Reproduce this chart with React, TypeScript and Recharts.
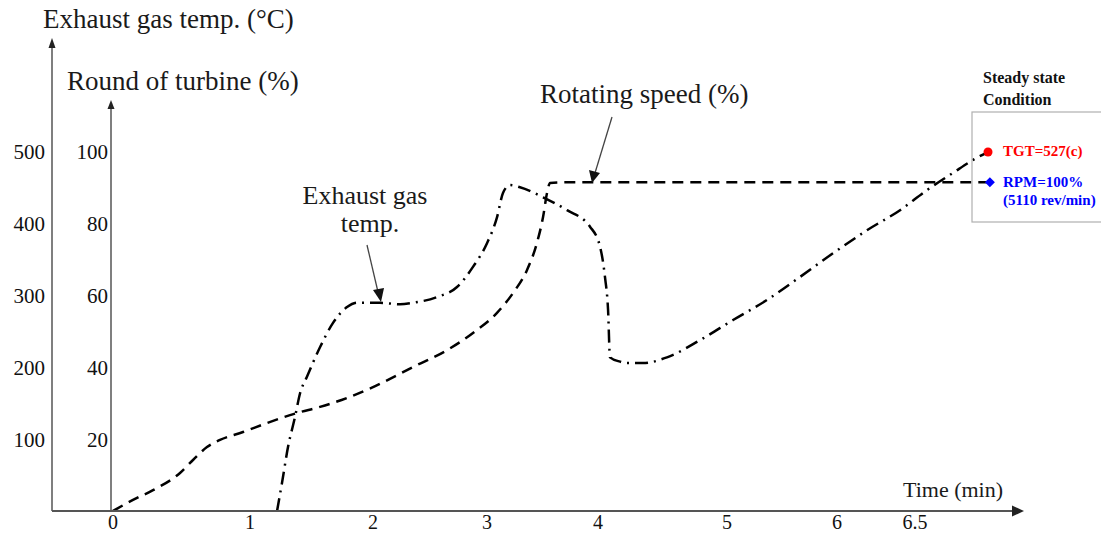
import { Line, LineChart, XAxis, YAxis } from "recharts";

const timeTicks = [0, 1, 2, 3, 4, 5, 6, 6.5];
const tempTicks = [100, 200, 300, 400, 500];
const speedTicks = [20, 40, 60, 80, 100];

// rotating speed (%) vs time (min)
const speedTime = [
  0, 0.146, 0.292, 0.489, 0.584, 0.686, 0.781, 0.949, 1.138, 1.382, 1.569, 1.789, 2.0, 2.149,
  2.351, 2.649, 2.877, 3.09, 3.234, 3.36, 3.45, 3.505, 3.541, 3.568, 3.721, 6.98,
];
const speedPct = [
  0, 3.1, 5.8, 10.6, 14.2, 17.8, 19.8, 22.0, 24.5, 27.3, 29.0, 31.5, 34.5, 36.8, 40.1, 44.8,
  49.6, 55.2, 60.7, 67.1, 74.7, 81.9, 88.6, 91.4, 91.6, 91.6,
];

// exhaust gas temp (°C) vs time (min)
const tempTime = [
  1.22, 1.26, 1.309, 1.366, 1.407, 1.463, 1.569, 1.675, 1.789, 1.87, 2.061, 2.237, 2.351, 2.561,
  2.737, 2.877, 3.0, 3.09, 3.144, 3.207, 3.297, 3.505, 3.721, 3.928, 4.016, 4.054, 4.078, 4.093,
  4.171, 4.225, 4.349, 4.535, 4.791, 5.055, 5.364, 5.664, 5.964, 6.192, 6.404, 6.577, 6.744,
  6.872, 6.968,
];
const tempC = [
  0, 39, 89, 131, 164, 187, 228, 262, 284, 290, 290, 288, 290, 298, 312, 340, 373, 409, 443, 454,
  451, 437, 419, 396, 368, 326, 280, 214, 208, 206, 206, 214, 238, 266, 294, 326, 359, 391, 419,
  447, 471, 489, 500,
];

const speedData = speedTime.map((t, i) => ({ t, v: speedPct[i] }));
const tempData = tempTime.map((t, i) => ({ t, v: tempC[i] }));

// the drawing's time axis is not evenly spaced: where each labelled minute sits, px from plot left
const knotOffsets = [2, 139, 262, 376, 487, 616, 726, 804];
const plotW = 899;

function timeFrac(t: number) {
  const n = timeTicks.length;
  let i = 0;
  if (t >= timeTicks[n - 1]) i = n - 2;
  else if (t > timeTicks[0]) while (t > timeTicks[i + 1]) i++;
  const t0 = timeTicks[i];
  const t1 = timeTicks[i + 1];
  const o = knotOffsets[i] + ((t - t0) / (t1 - t0)) * (knotOffsets[i + 1] - knotOffsets[i]);
  return o / plotW;
}

function timeScale(dom: any[] = [0, 1], rng: number[] = [0, 1]) {
  let d = dom.slice();
  let r = rng.slice();
  const s: any = (v: number) => r[0] + timeFrac(Number(v)) * (r[1] - r[0]);
  s.domain = (x?: any[]) => {
    if (x === undefined) return d.slice();
    d = x.slice();
    return s;
  };
  s.range = (x?: number[]) => {
    if (x === undefined) return r.slice();
    r = x.slice();
    return s;
  };
  s.copy = () => timeScale(d, r);
  s.ticks = () => timeTicks.slice();
  s.tickFormat = () => (v: number) => String(v);
  return s;
}

const serif = "'Liberation Serif', 'Times New Roman', serif";
const axisColor = "#555";
const lastSpeed = speedData.length - 1;
const lastTemp = tempData.length - 1;

function SpeedEnd(props: any) {
  const { cx, cy, index } = props;
  if (index !== lastSpeed) return <g key={`s${index}`} />;
  return (
    <polygon
      key={`s${index}`}
      points={`${cx},${cy - 5} ${cx + 5},${cy} ${cx},${cy + 5} ${cx - 5},${cy}`}
      fill="#0000ff"
    />
  );
}

function TempEnd(props: any) {
  const { cx, cy, index } = props;
  if (index !== lastTemp) return <g key={`t${index}`} />;
  return <circle key={`t${index}`} cx={cx} cy={cy} r={4.5} fill="#ff0000" />;
}

export default function App() {
  return (
    <div style={{ position: "relative", width: 1093, height: 528 }}>
      <LineChart width={1093} height={528} margin={{ top: 97, right: 91, bottom: 0, left: 0 }}>
        <XAxis
          dataKey="t"
          type="number"
          scale={timeScale() as any}
          domain={[-0.015, 7.11]}
          ticks={timeTicks}
          interval={0}
          tickLine={false}
          tickSize={0}
          tickMargin={4}
          height={25}
          axisLine={{ stroke: axisColor, strokeWidth: 2 }}
          tick={{ fill: "#111", fontSize: 20, fontFamily: serif }}
          allowDuplicatedCategory={false}
        />
        <YAxis
          yAxisId="pct"
          type="number"
          domain={[0, 113.1]}
          ticks={speedTicks}
          width={59}
          tickLine={false}
          tickSize={0}
          tickMargin={3}
          axisLine={{ stroke: axisColor, strokeWidth: 1.5 }}
          tick={{ fill: "#111", fontSize: 21, fontFamily: serif }}
        />
        <YAxis
          yAxisId="temp"
          type="number"
          domain={[0, 565.5]}
          ticks={tempTicks}
          width={44}
          tickLine={false}
          tickSize={0}
          tickMargin={7}
          axisLine={{ stroke: axisColor, strokeWidth: 1.5 }}
          tick={{ fill: "#111", fontSize: 21, fontFamily: serif }}
        />
        <Line
          yAxisId="pct"
          data={speedData}
          dataKey="v"
          type="monotone"
          stroke="#000"
          strokeWidth={2.5}
          strokeDasharray="11 7"
          dot={SpeedEnd}
          activeDot={false}
          isAnimationActive={false}
        />
        <Line
          yAxisId="temp"
          data={tempData}
          dataKey="v"
          type="monotone"
          stroke="#000"
          strokeWidth={2.5}
          strokeDasharray="13 6 2 6"
          dot={TempEnd}
          activeDot={false}
          isAnimationActive={false}
        />
      </LineChart>

      <svg
        width={1109}
        height={544}
        style={{ position: "absolute", left: -8, top: -8, pointerEvents: "none" }}
        fontFamily={serif}
      >
        {/* axis extensions and arrow heads */}
        <line x1={52} y1={105} x2={52} y2={46} stroke={axisColor} strokeWidth={1.5} />
        <polygon points="52,38 48.5,48 55.5,48" fill="#222" />
        <polygon points="111,100 107.5,109 114.5,109" fill="#222" />
        <line x1={52} y1={511} x2={111} y2={511} stroke={axisColor} strokeWidth={2} />
        <line x1={1010} y1={511} x2={1014} y2={511} stroke={axisColor} strokeWidth={2} />
        <polygon points="1024,511 1012,505.5 1012,516.5" fill="#222" />

        <text x={43} y={28} fontSize={27} fill="#1a1a1a">Exhaust gas temp. (°C)</text>
        <text x={67} y={90} fontSize={27} fill="#1a1a1a">Round of turbine (%)</text>
        <text x={540} y={103} fontSize={27} fill="#1a1a1a">Rotating speed (%)</text>
        <text x={365} y={204} fontSize={26} fill="#1a1a1a" textAnchor="middle">Exhaust gas</text>
        <text x={370} y={232} fontSize={26} fill="#1a1a1a" textAnchor="middle">temp.</text>
        <text x={903} y={497} fontSize={22} fill="#1a1a1a">Time (min)</text>

        {/* pointer arrows */}
        <line x1={367} y1={245} x2={378} y2={292} stroke="#444" strokeWidth={1.3} />
        <polygon points="381,302 373,290 384,288" fill="#111" />
        <line x1={612} y1={117} x2={595} y2={173} stroke="#444" strokeWidth={1.3} />
        <polygon points="592,183 589,170 600,173" fill="#111" />

        {/* steady state box */}
        <text x={983} y={83} fontSize={16} fontWeight="bold" fill="#111">Steady state</text>
        <text x={983} y={105} fontSize={16} fontWeight="bold" fill="#111">Condition</text>
        <rect x={972} y={112} width={160} height={110} fill="none" stroke="#b0b0b0" strokeWidth={1.2} />
        <text x={1003} y={156} fontSize={15} fontWeight="bold" fill="#ff0000">TGT=527(c)</text>
        <text x={1003} y={187} fontSize={15} fontWeight="bold" fill="#0000ff">RPM=100%</text>
        <text x={1003} y={205} fontSize={15} fontWeight="bold" fill="#0000ff">(5110 rev/min)</text>
      </svg>
    </div>
  );
}
